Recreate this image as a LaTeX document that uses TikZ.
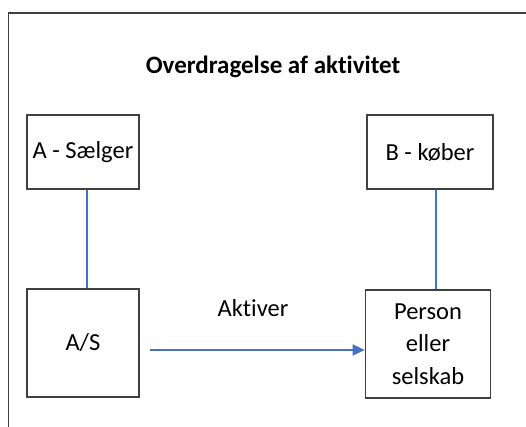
\documentclass[tikz,border=0pt]{standalone}
\usepackage{fontspec}
\setmainfont{Carlito}[Ligatures=NoCommon]
\usetikzlibrary{arrows.meta}
\definecolor{frame}{HTML}{404040}
\definecolor{link}{HTML}{4472C4}
\begin{document}
\begin{tikzpicture}[x=1pt,y=-1pt,
  box/.style={draw=frame,line width=1.6pt,fill=white,inner sep=0pt,
    font=\fontsize{24.5}{32.5}\selectfont,align=center},
  link/.style={draw=link,line width=1.2pt},
  every node/.style={text=black}]
\useasboundingbox (0,0) rectangle (526,426);
% outer frame, open to the right and bottom
\draw[draw=frame,line width=1.4pt] (527,13) -- (8.5,13) -- (8.5,427);
\node[font=\fontsize{25}{28}\selectfont\bfseries] (title) at (273,67) {Overdragelse af aktivitet};
\node[box,minimum width=112pt,minimum height=74pt] (a) at (83,152) {A - Sælger};
\node[box,minimum width=126pt,minimum height=74pt] (b) at (430,152) {B - køber};
\node[box,minimum width=112pt,minimum height=108pt] (as) at (83,343) {A/S};
\node[box,minimum width=125pt,minimum height=108pt] (p) at (428,344) {Person\\eller\\selskab};
\coordinate (la) at (87,0);
\coordinate (lb) at (436,0);
\coordinate (start) at (150,350);
\draw[link] (a.south -| la) -- (as.north -| la);
\draw[link] (b.south -| lb) -- (p.north -| lb);
\draw[link,-{Triangle[length=12pt,width=11pt]}] (start) -- (start -| p.west);
\node[font=\fontsize{24.5}{28}\selectfont] (lbl) at (253,308) {Aktiver};
\end{tikzpicture}
\end{document}
